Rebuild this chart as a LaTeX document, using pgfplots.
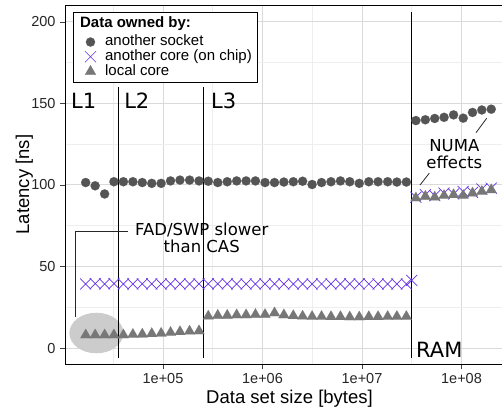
\documentclass[border=0pt]{standalone}
\usepackage{pgfplots}
\pgfplotsset{compat=1.18}
\usepackage{fontspec}
\setmainfont{Liberation Sans}
\newfontfamily\dejavu{DejaVu Sans}
\definecolor{sockc}{RGB}{85,85,85}
\definecolor{corec}{RGB}{102,51,230}
\definecolor{localc}{RGB}{119,119,119}
\definecolor{majgrid}{RGB}{218,218,218}
\definecolor{mingrid}{RGB}{238,238,238}
\begin{document}
\begin{tikzpicture}
\useasboundingbox (-65pt,-50pt) rectangle (437pt,364pt);
\begin{axis}[
  scale only axis, width=449pt, height=359pt,
  xmode=log, xmin=1.035e4, xmax=3.37e8,
  ymin=-9.8, ymax=210.4,
  xtick={1e5,1e6,1e7,1e8}, xticklabels={1e+05,1e+06,1e+07,1e+08},
  minor xtick={3.162e4,3.162e5,3.162e6,3.162e7,3.162e8},
  ytick={0,50,100,150,200}, minor ytick={25,75,125,175},
  grid=both,
  major grid style={majgrid, line width=1pt},
  minor grid style={mingrid, line width=0.6pt},
  tick pos=left,
  tick align=outside, major tick length=5pt, minor tick length=0pt,
  tick style={black!75, line width=0.8pt},
  axis line style={black, line width=0.9pt},
  /pgf/number format/assume math mode=true,
  ticklabel style={font=\fontsize{14.5}{14.5}\selectfont, text=black!85},
  xticklabel style={yshift=-1pt},
  yticklabel style={xshift=-1pt},
  xlabel={Data set size [bytes]}, ylabel={Latency [ns]},
  label style={font=\fontsize{18.5}{18.5}\selectfont},
  xlabel style={at={([yshift=-39pt]axis description cs:0.5,0)}, anchor=base},
  ylabel style={at={([xshift=-36pt]axis description cs:0,0.5)}, anchor=base, rotate=0},
  legend style={at={(axis description cs:0.0178,0.9805)}, anchor=north west,
    draw=black, line width=1pt, fill=white, font=\fontsize{15}{15}\selectfont,
    nodes={inner sep=0.6pt, text height=10.5pt, text depth=3pt},
    row sep=0pt, column sep=2pt, inner xsep=5pt, inner ysep=4pt},
  legend cell align=left,
  legend image code/.code={\path[draw=none, fill=none] (0pt,0pt) (24pt,0pt);
    \draw[#1] plot coordinates {(12pt,0pt)};},
]
\fill[black!20] (axis cs:2.14e4,9.2) ellipse [x radius=27pt, y radius=20.3pt];
\addlegendimage{empty legend}
\addlegendentry[text depth=6.5pt]{\hspace*{-25pt}\textbf{Data owned by:}}
\addplot[only marks, mark=*, mark size=4.6pt, color=sockc, mark options={fill=sockc, draw=sockc, line width=0.1pt}] coordinates {
(1.67e4,101.5) (2.08e4,99.5) (2.59e4,94.5) (3.21e4,102) (4.00e4,102) (4.98e4,102)
(6.19e4,101.5) (7.71e4,101) (9.57e4,101) (1.19e5,102.5) (1.48e5,103) (1.85e5,103)
(2.30e5,102.5) (2.85e5,102.3) (3.55e5,101.5) (4.42e5,102) (5.50e5,102.5) (6.84e5,102.5)
(8.49e5,102.5) (1.06e6,101.5) (1.32e6,101.5) (1.64e6,101.8) (2.04e6,102) (2.53e6,102.3)
(3.15e6,100.3) (3.92e6,101.5) (4.88e6,102) (6.07e6,102.5) (7.53e6,102) (9.38e6,101)
(1.17e7,102) (1.45e7,102) (1.81e7,102) (2.24e7,101.8) (2.79e7,101.8)
(3.48e7,139.5) (4.33e7,140) (5.38e7,140.8) (6.68e7,141.5) (8.32e7,143) (1.04e8,141)
(1.29e8,144.5) (1.60e8,146) (1.99e8,146.5)
};
\addlegendentry{another socket}
\addplot[only marks, mark=x, mark size=7.8pt, color=corec, mark options={line width=0.7pt}] coordinates {
(1.67e4,39.3) (2.08e4,39.5) (2.59e4,39.3) (3.21e4,39.5) (4.00e4,39.3) (4.98e4,39.3)
(6.19e4,39.3) (7.71e4,39.3) (9.57e4,39.3) (1.19e5,39.3) (1.48e5,39.3) (1.85e5,39.3)
(2.30e5,39.3) (2.85e5,39.3) (3.55e5,39.3) (4.42e5,39.3) (5.50e5,39.3) (6.84e5,39.3)
(8.49e5,39.3) (1.06e6,39.3) (1.32e6,39.3) (1.64e6,39.3) (2.04e6,39.3) (2.53e6,39.3)
(3.15e6,39.3) (3.92e6,39.3) (4.88e6,39.3) (6.07e6,39.3) (7.53e6,39.3) (9.38e6,39.3)
(1.17e7,39.3) (1.45e7,39.3) (1.81e7,39.3) (2.24e7,39.3) (2.79e7,39.3)
(3.16e7,41.5)
(3.48e7,92.5) (4.33e7,94) (5.38e7,93.5) (6.68e7,95) (8.32e7,94.5) (1.04e8,96)
(1.29e8,95.5) (1.60e8,97.5) (1.99e8,98)
};
\addlegendentry{another core (on chip)}
\addplot[only marks, mark=triangle*, mark size=6.2pt, color=localc, mark options={fill=localc, draw=localc, line width=0.1pt}] coordinates {
(1.67e4,8) (2.08e4,8) (2.59e4,8) (3.21e4,8) (4.00e4,8) (4.98e4,8.3)
(6.19e4,8.5) (7.71e4,8.8) (9.57e4,9) (1.19e5,9.5) (1.48e5,10) (1.85e5,10.3)
(2.30e5,10.5) (2.85e5,19.5) (3.55e5,20) (4.42e5,20) (5.50e5,20.3) (6.84e5,20.3)
(8.49e5,20.5) (1.06e6,20.5) (1.32e6,21.5) (1.64e6,20.3) (2.04e6,19.8) (2.53e6,19.5)
(3.15e6,19.3) (3.92e6,19.3) (4.88e6,19.2) (6.07e6,19.2) (7.53e6,19) (9.38e6,19)
(1.17e7,19.2) (1.45e7,19.2) (1.81e7,19.3) (2.24e7,19.3) (2.79e7,19.3)
(3.48e7,92) (4.33e7,93) (5.38e7,92.5) (6.68e7,93.5) (8.32e7,94) (1.04e8,93.5)
(1.29e8,95) (1.60e8,96) (1.99e8,97)
};
\addlegendentry{local core}
% cache boundaries
\draw[black, line width=0.8pt] (axis cs:3.53e4,160) -- (axis cs:3.53e4,-6);
\draw[black, line width=0.8pt] (axis cs:2.52e5,160) -- (axis cs:2.52e5,-6);
\draw[black, line width=0.8pt] (axis cs:3.10e7,206) -- (axis cs:3.10e7,-6);
\node[anchor=base west, inner sep=0pt, font=\dejavu\fontsize{21}{21}\selectfont] at (axis cs:1.19e4,147.2) {L1};
\node[anchor=base west, inner sep=0pt, font=\dejavu\fontsize{21}{21}\selectfont] at (axis cs:4.06e4,147.2) {L2};
\node[anchor=base west, inner sep=0pt, font=\dejavu\fontsize{21}{21}\selectfont] at (axis cs:3.03e5,147.2) {L3};
\node[anchor=base west, inner sep=0pt, font=\dejavu\fontsize{21}{21}\selectfont] at (axis cs:3.49e7,-6.1) {RAM};
% annotations
\draw[black!85, line width=0.8pt] (axis cs:1.31e4,19) -- (axis cs:1.31e4,71.8) -- (axis cs:4.45e4,71.8);
\node[align=center, inner sep=0pt, font=\dejavu\fontsize{16.5}{17}\selectfont] at (axis cs:2.45e5,67.5) {FAD/SWP slower\\than CAS};
\node[align=center, inner sep=0pt, font=\dejavu\fontsize{16.5}{17}\selectfont] at (axis cs:8.47e7,119) {NUMA\\effects};
\draw[black!85, line width=0.8pt] (axis cs:1.40e8,132.1) -- (axis cs:1.79e8,140.9);
\draw[black!85, line width=0.8pt] (axis cs:3.83e7,100) -- (axis cs:4.74e7,107.2);
\end{axis}
\end{tikzpicture}
\end{document}
